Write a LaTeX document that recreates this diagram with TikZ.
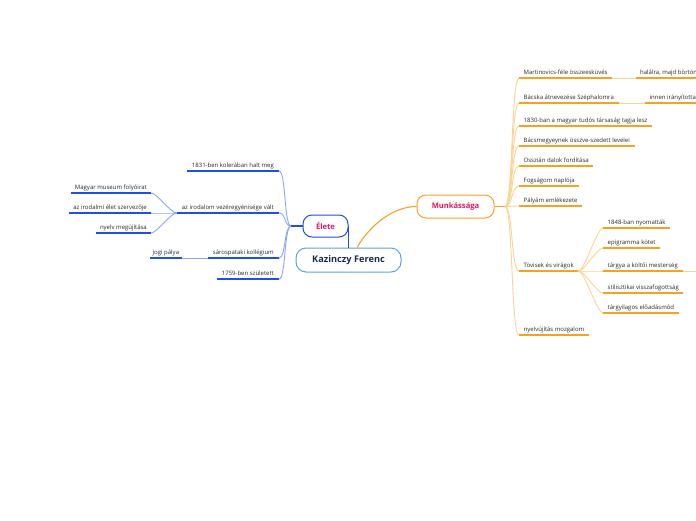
\documentclass[tikz,border=0pt]{standalone}
\usepackage{fontspec}
\setmainfont{Open Sans}
\usetikzlibrary{calc}
\definecolor{bdark}{HTML}{1F4FE6}
\definecolor{blight}{HTML}{8AA6F7}
\definecolor{odark}{HTML}{F7A123}
\definecolor{olight}{HTML}{FDD394}
\definecolor{cborder}{HTML}{5BA3DA}
\definecolor{navy}{HTML}{1B2B4F}
\definecolor{crim}{HTML}{E5175E}
\definecolor{leaftext}{HTML}{2A2A2A}
\begin{document}
\begin{tikzpicture}[x=1pt,y=-1pt,
  leaffont/.style={font=\fontsize{6}{7}\selectfont, text=leaftext},
  rleaf/.style={leaffont, anchor=south west, inner xsep=4.5pt, inner ysep=2.2pt, text height=4.4pt, text depth=1.4pt},
  lleaf/.style={leaffont, anchor=south east, inner xsep=5pt, inner ysep=2.2pt, text height=4.4pt, text depth=1.4pt},
  ouline/.style={draw=odark, line width=1.6pt},
  buline/.style={draw=bdark, line width=1.6pt},
  ocon/.style={draw=olight, line width=0.9pt},
  bcon/.style={draw=blight, line width=0.9pt},
  topic/.style={rounded corners=9pt, fill=white, line width=1pt, inner sep=0pt, font=\bfseries\fontsize{7.6}{9}\selectfont, text=crim}
]
\useasboundingbox (0,0) rectangle (696,520);
\fill[white] (0,0) rectangle (696,520);

% central and main topics
\node[draw=cborder, rounded corners=10pt, fill=white, line width=1pt, minimum width=105pt, minimum height=24pt, inner sep=0pt, font=\bfseries\fontsize{9.2}{11}\selectfont, text=navy] (kaz) at (348.5,260) {Kazinczy Ferenc};
\node[topic, draw=bdark, minimum width=45pt, minimum height=22pt] (elete) at (325.5,226) {Élete};
\node[topic, draw=odark, minimum width=77pt, minimum height=23pt] (munk) at (455.5,206.5) {Munkássága};

% right leaves
\node[rleaf] (m1) at (519,78) {Martinovics-féle összeesküvés};
\node[rleaf] (m2) at (519,103) {Bácska átnevezése Széphalomra};
\node[rleaf] (m3) at (519,126) {1830-ban a magyar tudós társaság tagja lesz};
\node[rleaf] (m4) at (519,146) {Bácsmegyeynek összve-szedett levelei};
\node[rleaf] (m5) at (519,166) {Osszián dalok fordítása};
\node[rleaf] (m6) at (519,186) {Fogságom naplója};
\node[rleaf] (m7) at (519,206) {Pályám emlékezete};
\node[rleaf] (m8) at (519,271) {Tövisek és virágok};
\node[rleaf] (m9) at (519,335) {nyelvújítás mozgalom};
\node[rleaf] (t1) at (603,228) {1848-ban nyomatták};
\node[rleaf] (t2) at (603,248) {epigramma kötet};
\node[rleaf] (t3) at (603,271) {tárgya a költői mesterség};
\node[rleaf] (t4) at (603,293) {stilisztikai visszafogottság};
\node[rleaf] (t5) at (603,313) {tárgyilagos előadásmód};
\node[rleaf, inner xsep=4pt] (h1) at (636,78) {halálra, majd börtön};
\node[rleaf] (h2) at (645,103) {innen irányította};
\coordinate (t3x) at (700,271);

% left leaves
\node[lleaf] (l1) at (279,171) {1831-ben kolerában halt meg};
\node[lleaf] (l2) at (279,213) {az irodalom vezéregyénisége vált};
\node[lleaf] (l3) at (279,258) {sárospataki kollégium};
\node[lleaf] (l4) at (279,279) {1759-ben született};
\node[lleaf, inner xsep=4pt] (g1) at (151,193) {Magyar museum folyóirat};
\node[lleaf, inner xsep=4pt] (g2) at (151,213) {az irodalmi élet szervezője};
\node[lleaf, inner xsep=4pt] (g3) at (151,233) {nyelv megújítása};
\node[rleaf, inner xsep=2.5pt] (g4) at (150,258) {jogi pálya};

% junctions
\coordinate (ej) at (291,226);
\coordinate (oj) at (505,206.5);

% main connectors
\draw[draw=bdark, line width=1.1pt] (elete.east) -- (elete.east |- kaz.north);
\draw[draw=odark, line width=1.1pt] ($(kaz.north)+(8.5,0)$) .. controls +(14,-24) and +(-22,0) .. (munk.west);
\draw[draw=bdark, line width=1.1pt] (elete.west) -- (ej);
\draw[draw=odark, line width=1.4pt] (munk.east) -- (oj);

% blue connectors
\foreach \n in {l1,l2,l3,l4}{
  \draw[bcon] (ej) .. controls +(-7,0) and +(7,0) .. (\n.south east);
}
\foreach \n in {g1,g2,g3}{
  \draw[bcon] (l2.south west) .. controls +(-6,0) and +(6,0) .. (\n.south east);
}
\draw[bcon] (l3.south west) -- (g4.south east);

% orange connectors
\foreach \n in {m1,m2,m3,m4,m5,m6,m7,m8,m9}{
  \draw[ocon] (oj) .. controls +(8,0) and +(-8,0) .. (\n.south west);
}
\foreach \n in {t1,t2,t3,t4,t5}{
  \draw[ocon] (m8.south east) .. controls +(6,0) and +(-6,0) .. (\n.south west);
}
\draw[ocon] (m1.south east) -- (h1.south west);
\draw[ocon] (m2.south east) -- (h2.south west);
\draw[ocon] (t3.south east) -- (t3x);

% underlines
\foreach \n in {m1,m2,m3,m4,m5,m6,m7,m8,m9,t1,t2,t3,t4,t5,h1,h2}{
  \draw[ouline] (\n.south west) -- (\n.south east);
}
\foreach \n in {l1,l2,l3,l4,g1,g2,g3,g4}{
  \draw[buline] (\n.south west) -- (\n.south east);
}
\end{tikzpicture}
\end{document}
